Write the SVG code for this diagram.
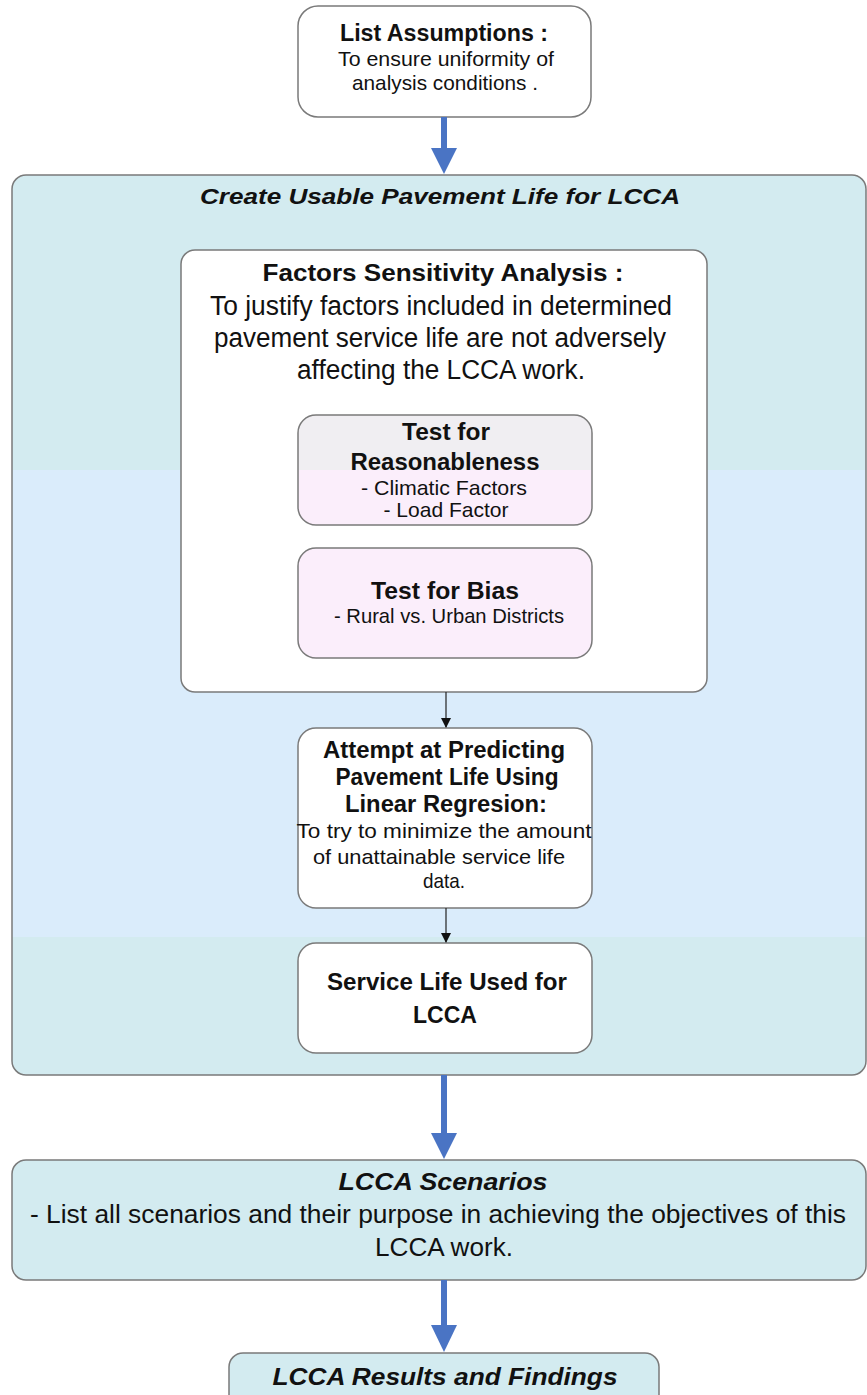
<svg xmlns="http://www.w3.org/2000/svg" width="867" height="1395" viewBox="0 0 867 1395">
<style>
.box{stroke:#7a7a7a;stroke-width:1.5}
.w{fill:#ffffff}
.t{font-family:"Liberation Sans",Arial,sans-serif;fill:#111;text-anchor:middle}
.b{font-weight:bold}
.bi{font-weight:bold;font-style:italic}
.big{fill:#4a74c4}
.thin{stroke:#222;stroke-width:1.2;fill:none}
</style>
<defs>
<linearGradient id="cont" x1="0" y1="175" x2="0" y2="1075" gradientUnits="userSpaceOnUse">
<stop offset="0" stop-color="#d3ebf0"/>
<stop offset="0.3277" stop-color="#d3ebf0"/>
<stop offset="0.3277" stop-color="#daecfb"/>
<stop offset="0.8466" stop-color="#daecfb"/>
<stop offset="0.8466" stop-color="#d3ebf0"/>
<stop offset="1" stop-color="#d3ebf0"/>
</linearGradient>
<linearGradient id="reas" x1="0" y1="415" x2="0" y2="525" gradientUnits="userSpaceOnUse">
<stop offset="0" stop-color="#f0eef2"/>
<stop offset="0.5" stop-color="#f0eef2"/>
<stop offset="0.5" stop-color="#fbeefb"/>
<stop offset="1" stop-color="#fbeefb"/>
</linearGradient>
<marker id="tri" markerWidth="10" markerHeight="10" refX="9" refY="5" orient="auto" markerUnits="userSpaceOnUse">
<path d="M0,0 L10,5 L0,10 Z" fill="#111"/>
</marker>
</defs>

<g id="container">
<rect class="box" x="12" y="175" width="854" height="900" rx="14" fill="url(#cont)"/>
<text class="t bi" x="440" y="204" font-size="22" textLength="480" lengthAdjust="spacingAndGlyphs">Create Usable Pavement Life for LCCA</text>
</g>

<g id="assumptions">
<rect class="box w" x="298" y="6" width="293" height="111" rx="20"/>
<text class="t b" x="444" y="41" font-size="23" textLength="208" lengthAdjust="spacingAndGlyphs">List Assumptions :</text>
<text class="t" x="446" y="66" font-size="21" textLength="216" lengthAdjust="spacingAndGlyphs">To ensure uniformity of</text>
<text class="t" x="445" y="90" font-size="21" textLength="186" lengthAdjust="spacingAndGlyphs">analysis conditions .</text>
</g>

<g id="factors">
<rect class="box w" x="181" y="250" width="526" height="442" rx="14"/>
<text class="t b" x="443" y="281" font-size="24" textLength="361" lengthAdjust="spacingAndGlyphs">Factors Sensitivity Analysis :</text>
<text class="t" x="441" y="315" font-size="27" textLength="462" lengthAdjust="spacingAndGlyphs">To justify factors included in determined</text>
<text class="t" x="440" y="347" font-size="27" textLength="452" lengthAdjust="spacingAndGlyphs">pavement service life are not adversely</text>
<text class="t" x="441" y="379" font-size="27" textLength="288" lengthAdjust="spacingAndGlyphs">affecting the LCCA work.</text>
</g>

<g id="reasonableness">
<rect class="box" x="298" y="415" width="294" height="110" rx="18" fill="url(#reas)"/>
<text class="t b" x="446" y="440" font-size="24" textLength="88" lengthAdjust="spacingAndGlyphs">Test for</text>
<text class="t b" x="445" y="470" font-size="24" textLength="189" lengthAdjust="spacingAndGlyphs">Reasonableness</text>
<text class="t" x="444" y="495" font-size="21" textLength="166" lengthAdjust="spacingAndGlyphs">- Climatic Factors</text>
<text class="t" x="446" y="517" font-size="21" textLength="125" lengthAdjust="spacingAndGlyphs">- Load Factor</text>
</g>

<g id="bias">
<rect class="box" x="298" y="548" width="294" height="110" rx="18" fill="#fbeefb"/>
<text class="t b" x="445" y="599" font-size="24" textLength="148" lengthAdjust="spacingAndGlyphs">Test for Bias</text>
<text class="t" x="449" y="623" font-size="21" textLength="230" lengthAdjust="spacingAndGlyphs">- Rural vs. Urban Districts</text>
</g>

<g id="attempt">
<rect class="box w" x="298" y="728" width="294" height="180" rx="18"/>
<text class="t b" x="444" y="758" font-size="24" textLength="242" lengthAdjust="spacingAndGlyphs">Attempt at Predicting</text>
<text class="t b" x="447" y="785" font-size="24" textLength="223" lengthAdjust="spacingAndGlyphs">Pavement Life Using</text>
<text class="t b" x="446" y="812" font-size="24" textLength="202" lengthAdjust="spacingAndGlyphs">Linear Regresion:</text>
<text class="t" x="444" y="838" font-size="21" textLength="295" lengthAdjust="spacingAndGlyphs">To try to minimize the amount</text>
<text class="t" x="439" y="864" font-size="21" textLength="252" lengthAdjust="spacingAndGlyphs">of unattainable service life</text>
<text class="t" x="444" y="888" font-size="21" textLength="42" lengthAdjust="spacingAndGlyphs">data.</text>
</g>

<g id="servicelife">
<rect class="box w" x="298" y="943" width="294" height="110" rx="18"/>
<text class="t b" x="447" y="990" font-size="24" textLength="240" lengthAdjust="spacingAndGlyphs">Service Life Used for</text>
<text class="t b" x="445" y="1023" font-size="24" textLength="64" lengthAdjust="spacingAndGlyphs">LCCA</text>
</g>

<g id="scenarios">
<rect class="box" x="12" y="1160" width="854" height="120" rx="14" fill="#d3ebf0"/>
<text class="t bi" x="443" y="1190" font-size="24" textLength="209" lengthAdjust="spacingAndGlyphs">LCCA Scenarios</text>
<text class="t" x="438" y="1223" font-size="26" textLength="816" lengthAdjust="spacingAndGlyphs">- List all scenarios and their purpose in achieving the objectives of this</text>
<text class="t" x="444" y="1256" font-size="26" textLength="138" lengthAdjust="spacingAndGlyphs">LCCA work.</text>
</g>

<g id="results">
<rect class="box" x="229" y="1353" width="430" height="60" rx="14" fill="#d3ebf0"/>
<text class="t bi" x="445" y="1385" font-size="24" textLength="345" lengthAdjust="spacingAndGlyphs">LCCA Results and Findings</text>
</g>

<g id="connectors">
<rect class="big" x="441" y="117" width="6" height="33"/>
<path class="big" d="M431,148 L457,148 L444,174 Z"/>
<line class="thin" x1="446" y1="692" x2="446" y2="727" marker-end="url(#tri)"/>
<line class="thin" x1="446" y1="908" x2="446" y2="942" marker-end="url(#tri)"/>
<rect class="big" x="441" y="1075" width="6" height="60"/>
<path class="big" d="M431,1133 L457,1133 L444,1159 Z"/>
<rect class="big" x="441" y="1280" width="6" height="47"/>
<path class="big" d="M431,1325 L457,1325 L444,1352 Z"/>
</g>
</svg>
